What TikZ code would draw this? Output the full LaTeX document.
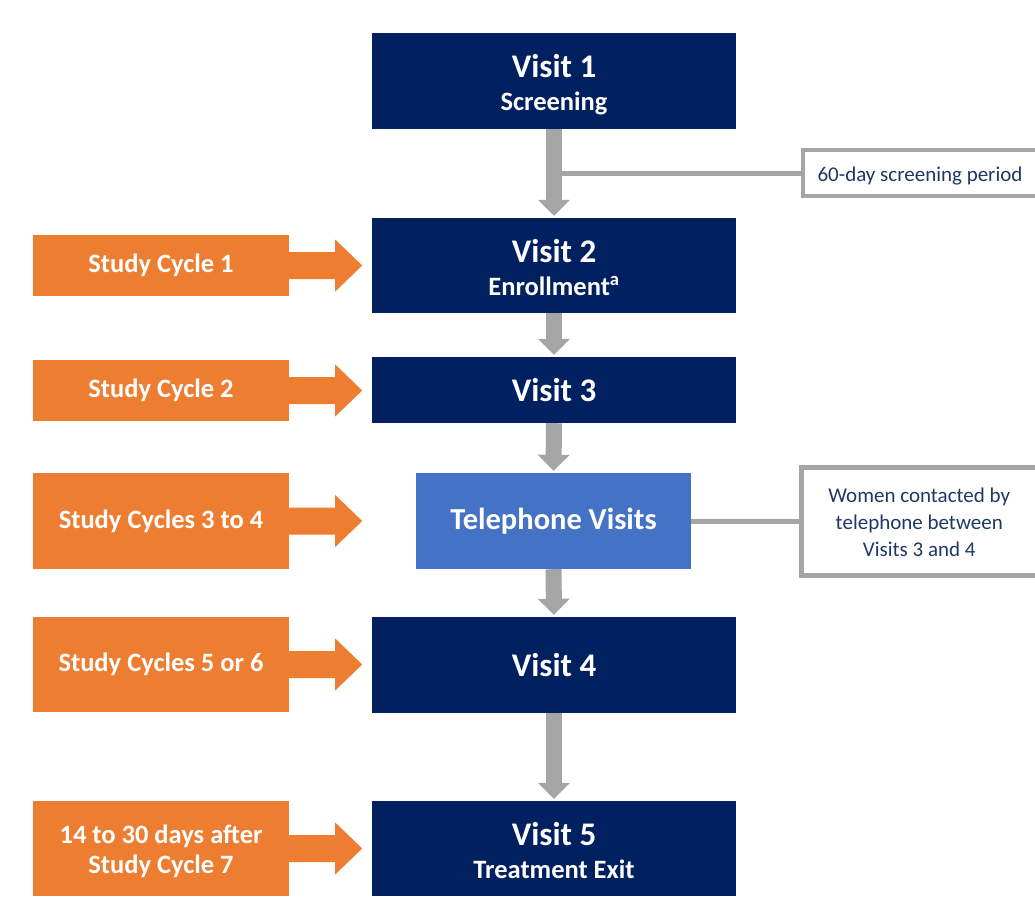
\documentclass[tikz,border=0pt]{standalone}
\usepackage{fontspec}
\setmainfont{Carlito}
\usetikzlibrary{calc,arrows.meta}
\definecolor{navy}{HTML}{002060}
\definecolor{orng}{HTML}{ED7D31}
\definecolor{gry}{HTML}{A5A5A5}
\definecolor{telblue}{HTML}{4472C4}
\definecolor{sidetext}{HTML}{1F3864}
\begin{document}
\begin{tikzpicture}[x=1pt,y=-1pt,
  visitbox/.style={fill=navy, text=white, inner sep=0pt, align=center,
    minimum width=364, font=\bfseries\fontsize{26.5}{33}\selectfont},
  cyclebox/.style={fill=orng, text=white, inner sep=0pt, align=center,
    minimum width=256, font=\bfseries\fontsize{26.5}{30}\selectfont},
  sidebox/.style={draw=gry, line width=4.5, fill=white, text=sidetext, inner sep=0pt,
    align=center, font=\fontsize{21}{27}\selectfont},
  downarrow/.style={draw=gry, line width=16, -{Triangle[width=31pt,length=16pt,fill=gry]}},
  gline/.style={draw=gry, line width=5}
]
\useasboundingbox (0,0) rectangle (1035,897);
\clip (0,0) rectangle (1035,897);

% main visit boxes
\node[visitbox, minimum height=96, text height=77, text depth=19] (v1) at (554,81)
  {{\fontsize{33}{33}\selectfont Visit 1}\\Screening};
\node[visitbox, minimum height=95, text height=77, text depth=18] (v2) at (554,265.5)
  {{\fontsize{33}{33}\selectfont Visit 2}\\Enrollment\textsuperscript{a}};
\node[visitbox, minimum height=66, font=\bfseries\fontsize{33}{34}\selectfont] (v3) at (554,390) {Visit 3};
\node[fill=telblue, text=white, inner sep=0pt, minimum width=275, minimum height=96,
  font=\bfseries\fontsize{30.5}{34}\selectfont] (tel) at (553.5,521) {Telephone Visits};
\node[visitbox, minimum height=96, font=\bfseries\fontsize{33}{34}\selectfont] (v4) at (554,665) {Visit 4};
\node[visitbox, minimum height=95, text height=77, text depth=18] (v5) at (554,848.5)
  {{\fontsize{33}{33}\selectfont Visit 5}\\Treatment Exit};

% side note boxes
\node[sidebox, minimum width=234, minimum height=46, text height=31, text depth=15] (scr) at (920,173) {60-day screening period};
\node[sidebox, minimum width=235.5, minimum height=108, text height=88.5, text depth=19.5] (wom) at (919.25,521.5)
  {Women contacted by\\telephone between\\Visits 3 and 4};

% connectors to side boxes
\draw[gline] ($(v1.south)!.5!(v2.north)$) -- (scr.west |- {$(v1.south)!.5!(v2.north)$});
\draw[gline] (tel.east) -- (tel.east -| wom.west);

% grey down arrows
\draw[downarrow] (v1.south) -- ([yshift=2pt]v2.north);
\draw[downarrow] (v2.south) -- ([yshift=2pt]v3.north);
\draw[downarrow] (v3.south) -- ([yshift=2pt]tel.north);
\draw[downarrow] (tel.south) -- ([yshift=2pt]v4.north);
\draw[downarrow] (v4.south) -- ([yshift=2pt]v5.north);

% orange study cycle boxes
\node[cyclebox, minimum height=61] (sc1) at (161,265.5) {Study Cycle 1};
\node[cyclebox, minimum height=61] (sc2) at (161,390.5) {Study Cycle 2};
\node[cyclebox, minimum height=96] (sc3) at (161,521) {Study Cycles 3 to 4};
\node[cyclebox, minimum height=95] (sc5) at (161,664.5) {Study Cycles 5 or 6};
\node[cyclebox, minimum height=95, text height=72, text depth=23] (sc7) at (161,848.5) {14 to 30 days after\\Study Cycle 7};

% orange arrows
\foreach \s in {sc1,sc2,sc3,sc5,sc7}{
  \fill[orng] ($(\s.east)+(-1,-13.5)$) -- ++(47,0) -- ++(0,-12.5) -- ++(27,26)
    -- ++(-27,26) -- ++(0,-12.5) -- ++(-47,0) -- cycle;
}
\end{tikzpicture}
\end{document}
